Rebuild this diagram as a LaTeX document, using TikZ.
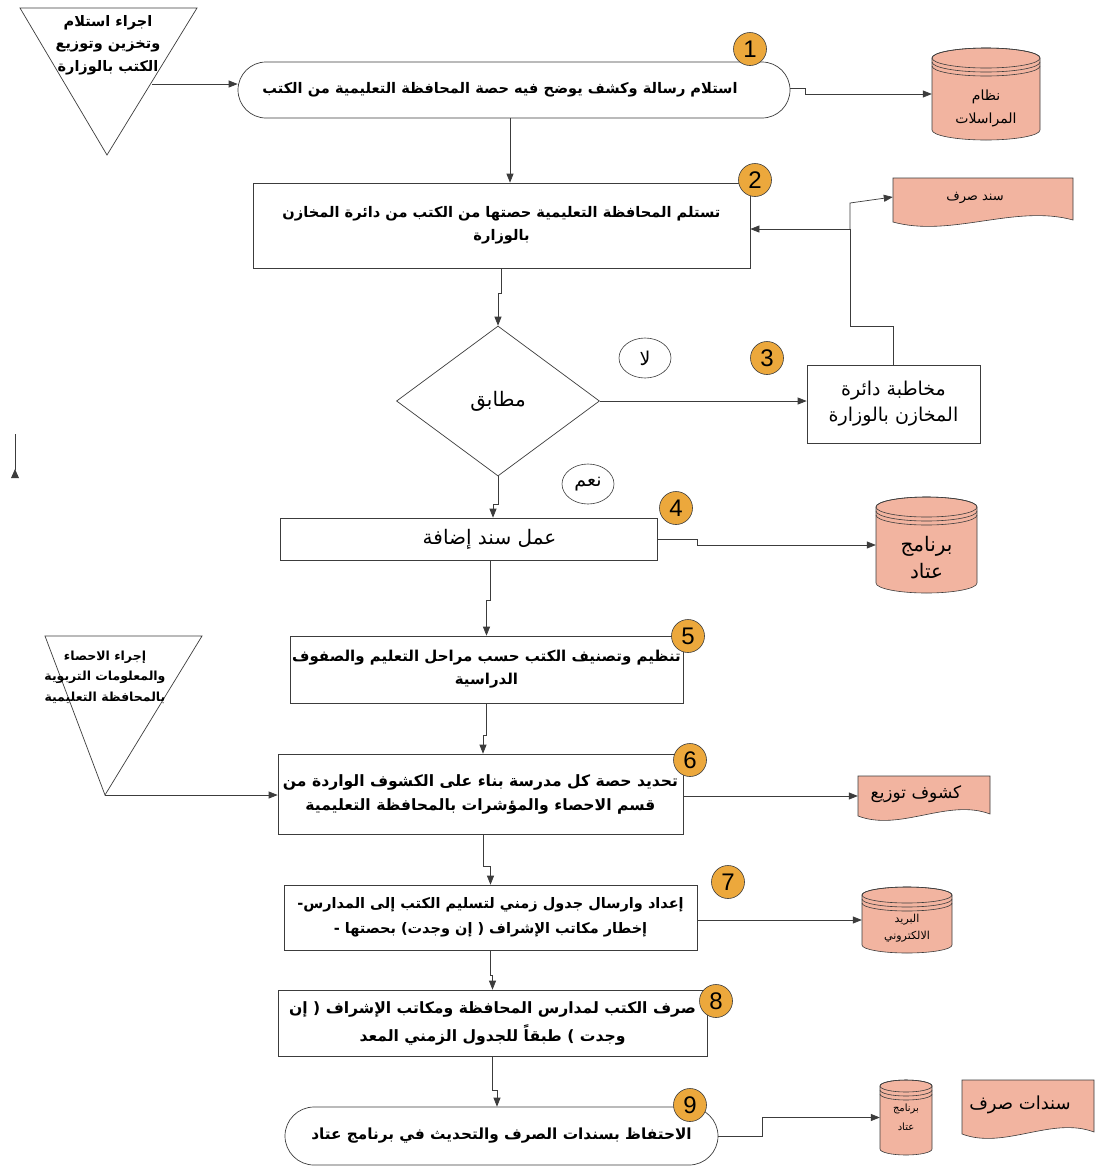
\documentclass[tikz,border=0pt]{standalone}
\usepackage{fontspec}
\usetikzlibrary{arrows.meta,shapes.geometric,calc}
\TeXXeTstate=1
\newfontfamily\arf[Script=Arabic]{DejaVu Sans}
\newfontfamily\numf{Liberation Sans}
\newcommand{\AR}[1]{\beginR #1\endR}
\definecolor{salmon}{RGB}{242,180,160}
\definecolor{numorange}{RGB}{236,168,60}
\definecolor{lncol}{RGB}{60,60,60}

% cylinder: name, cx, ytop, ybot, halfwidth, ry, font, text, text y-shift
\newcommand{\mycyl}[9]{%
  \path[fill=salmon,draw=lncol,line width=0.6pt] (#2-#5,#3+#6) -- (#2-#5,#4-#6)
     arc[start angle=180,end angle=360,x radius=#5pt,y radius=#6pt] -- (#2+#5,#3+#6)
     arc[start angle=0,end angle=180,x radius=#5pt,y radius=#6pt] -- cycle;
  \draw[lncol,line width=0.6pt] (#2,#3+#6) ellipse[x radius=#5pt,y radius=#6pt];
  \draw[lncol,line width=0.6pt] (#2-#5,#3+#6+4) arc[start angle=180,end angle=360,x radius=#5pt,y radius=#6pt];
  \draw[lncol,line width=0.6pt] (#2-#5,#3+#6+8) arc[start angle=180,end angle=360,x radius=#5pt,y radius=#6pt];
  \node[inner sep=0pt,minimum width={2*#5pt},minimum height={(#4-#3)*1pt}] (#1) at (#2,{(#3+#4)/2}) {};
  \node[inner sep=0pt,align=center,font={#7}] (#1text) at (#2,{(#3+#4)/2+#9}) {#8};
}
% document: name, x1, x2, ytop, ybottom, font, text
\newcommand{\mydoc}[7]{%
  \path[fill=salmon,draw=lncol,line width=0.6pt] (#2,#4) -- (#3,#4) -- (#3,#5-2)
     .. controls ({#2+0.68*(#3-#2)},#5-18) and ({#2+0.32*(#3-#2)},#5+16) .. (#2,#5) -- cycle;
  \node[inner sep=0pt,minimum width={(#3-#2)*1pt},minimum height={(#5-#4)*1pt}] (#1) at ({(#2+#3)/2},{(#4+#5)/2}) {};
  \node[inner sep=0pt,align=center,font={#6}] (#1text) at ({(#2+#3)/2-8},{(#4+#5)/2-2}) {#7};
}

\begin{document}
\begin{tikzpicture}[x=1pt,y=-1pt,
  box/.style={draw=lncol,line width=0.7pt,fill=white,inner sep=0pt,align=center},
  btxt/.style={font=\arf\bfseries\fontsize{15}{23}\selectfont},
  ntxt/.style={font=\arf\fontsize{20}{26}\selectfont},
  num/.style={circle,draw=lncol,line width=0.6pt,fill=numorange,minimum size=33pt,inner sep=0pt,font=\numf\fontsize{24}{24}\selectfont},
  conn/.style={draw=lncol,line width=0.7pt},
  arr/.style={conn,-{Triangle[length=9pt,width=7pt]}},
  lbl/.style={ellipse,draw=lncol,line width=0.6pt,fill=white,inner sep=0pt,minimum width=52pt,minimum height=40pt,font=\arf\fontsize{19}{19}\selectfont}
]
\useasboundingbox (0,0) rectangle (1095,1168);
\fill[white] (0,0) rectangle (1095,1168);

% ---------- triangles ----------
\draw[conn] (20,8) -- (197,8) -- (107,155) -- cycle;
\node[align=center,font=\arf\bfseries\fontsize{14.5}{22.5}\selectfont] (t1) at (108,45)
  {\AR{اجراء استلام}\\\AR{وتخزين وتوزيع}\\\AR{الكتب بالوزارة}};
\coordinate (t1out) at (152,84);

\draw[conn] (45,636) -- (202,636) -- (105,795) -- cycle;
\node[align=center,font=\arf\bfseries\fontsize{12.5}{20.5}\selectfont] (t2) at (105,677)
  {\AR{إجراء الاحصاء}\\\AR{والمعلومات التربوية}\\\AR{بالمحافظة التعليمية}};
\coordinate (t2out) at (105,795);

% ---------- process nodes ----------
\node[box,rounded corners=28pt,minimum width=552pt,minimum height=56pt,font=\arf\bfseries\fontsize{14.6}{23}\selectfont] (s1) at (514,90)
  {\AR{استلام رسالة وكشف يوضح فيه حصة المحافظة التعليمية من الكتب}\hspace*{28pt}};
\node[box,minimum width=497pt,minimum height=85pt,font=\arf\bfseries\fontsize{14.6}{23}\selectfont] (s2) at (501.5,225.5)
  {\AR{تستلم المحافظة التعليمية حصتها من الكتب من دائرة المخازن}\\\AR{بالوزارة}};
\node[diamond,draw=lncol,line width=0.7pt,fill=white,inner sep=0pt,minimum width=203pt,minimum height=150pt,font=\arf\fontsize{20}{26}\selectfont] (d) at (498,401)
  {\AR{مطابق}};
\node[box,minimum width=173pt,minimum height=78pt,font=\arf\fontsize{19}{26}\selectfont] (b3) at (893.5,404)
  {\AR{مخاطبة دائرة}\\\AR{المخازن بالوزارة}};
\node[box,ntxt,minimum width=377pt,minimum height=42pt] (s4) at (468.5,539)
  {\hspace*{42pt}\AR{عمل سند إضافة}};
\node[box,minimum width=393pt,minimum height=67pt,font=\arf\bfseries\fontsize{15}{23}\selectfont] (s5) at (486.5,669.5)
  {\AR{تنظيم وتصنيف الكتب حسب مراحل التعليم والصفوف}\\\AR{الدراسية}};
\node[box,minimum width=405pt,minimum height=80pt,font=\arf\bfseries\fontsize{15.6}{24}\selectfont] (s6) at (480.5,794)
  {\AR{تحديد حصة كل مدرسة بناء على الكشوف الواردة من}\\\AR{قسم الاحصاء والمؤشرات بالمحافظة التعليمية}};
\node[box,minimum width=413pt,minimum height=65pt,font=\arf\bfseries\fontsize{14.5}{25}\selectfont] (s7) at (490.5,917.5)
  {-\AR{إعداد وارسال جدول زمني لتسليم الكتب إلى المدارس}\\- \AR{إخطار مكاتب الإشراف ( إن وجدت) بحصتها}};
\node[box,minimum width=429pt,minimum height=66pt,font=\arf\bfseries\fontsize{15.6}{28}\selectfont] (s8) at (492.5,1023)
  {\AR{صرف الكتب لمدارس المحافظة  ومكاتب الإشراف ( إن}\\\AR{وجدت ) طبقاً للجدول الزمني المعد}};
\node[box,rounded corners=29pt,minimum width=433pt,minimum height=58pt,font=\arf\bfseries\fontsize{15.3}{23}\selectfont] (s9) at (501.5,1136)
  {\AR{الاحتفاظ بسندات الصرف والتحديث في برنامج عتاد}};

% ---------- stores and documents ----------
\mycyl{c1}{986}{48}{140}{54}{10}{\arf\fontsize{14}{23}\selectfont}{\AR{نظام}\\\AR{المراسلات}}{14}
\mycyl{c2}{926.5}{497}{593}{50.5}{10}{\arf\fontsize{20}{27}\selectfont}{\AR{برنامج}\\\AR{عتاد}}{13}
\mycyl{c3}{907}{887}{953}{45}{8}{\arf\fontsize{11}{17}\selectfont}{\AR{البريد}\\\AR{الالكتروني}}{8}
\mycyl{c4}{906}{1080}{1155}{26}{6}{\arf\fontsize{10}{19}\selectfont}{\AR{برنامج}\\\AR{عتاد}}{0}

\mydoc{doc1}{893}{1073}{178}{222}{\arf\fontsize{13}{15}\selectfont}{\AR{سند صرف}}
\mydoc{doc2}{858}{990}{776}{816}{\arf\fontsize{17}{18}\selectfont}{\AR{كشوف توزيع}}
\mydoc{doc3}{962}{1094}{1080}{1134}{\arf\fontsize{18}{18}\selectfont}{\AR{سندات صرف}}

% ---------- yes / no labels ----------
\node[lbl] (no) at (645,358) {\AR{لا}};
\node[lbl] (yes) at (588,484) {\AR{نعم}};

% ---------- connectors ----------
\draw[arr] (t1out) -- (s1.west |- t1out);
\draw[arr] ([yshift=2pt]s1.east) -- ++(15,0) |- (c1.west);
\draw[arr] ([xshift=-4pt]s1.south) -- ([xshift=8.5pt]s2.north);
\draw[arr] (s2.south) -- ++(0,25) -| (d.north);
\draw[arr] (d.east) -- (b3.west |- d.east);
\coordinate (j1) at (850,229);
\draw[conn] (b3.north) -- ++(0,-38) -| (j1);
\draw[arr] (j1) -- (s2.east |- j1);
\draw[arr] (j1) -- ++(0,-26) -- ([yshift=3pt]doc1.west);
\draw[arr] (d.south) -- ++(0,28) -| ([xshift=24.5pt]s4.north);
\draw[arr] (s4.east) -- ++(40,0) |- (c2.west);
\draw[arr] ([xshift=21.5pt]s4.south) -- ++(0,40) -| (s5.north);
\draw[arr] (t2out) -- (s6.west |- t2out);
\draw[arr] (s5.south) -- ++(0,32) -| ([xshift=2.5pt]s6.north);
\draw[arr] (s6.east |- doc2.west) -- (doc2.west);
\draw[arr] ([xshift=2.5pt]s6.south) -- ++(0,32) -| (s7.north);
\draw[arr] (s7.east |- c3.west) -- (c3.west);
\draw[arr] (s7.south) -- ++(0,25) -| (s8.north);
\draw[arr] (s8.south) -- ++(0,34) -| ([xshift=-4.5pt]s9.north);
\draw[arr] (s9.east) -- ++(44,0) |- (c4.west);

% stray mark at left margin
\draw[conn] (15,434) -- (15,470);
\fill[lncol] (11,478) -- (19,478) -- (15,469) -- cycle;

% ---------- step numbers ----------
\node[num] (n1) at (750,49) {1};
\node[num] (n2) at (755,180) {2};
\node[num] (n3) at (767,358) {3};
\node[num] (n4) at (676,508) {4};
\node[num] (n5) at (688,636) {5};
\node[num] (n6) at (690,760) {6};
\node[num] (n7) at (728,882) {7};
\node[num] (n8) at (716,1001) {8};
\node[num] (n9) at (690,1105) {9};
\end{tikzpicture}
\end{document}
